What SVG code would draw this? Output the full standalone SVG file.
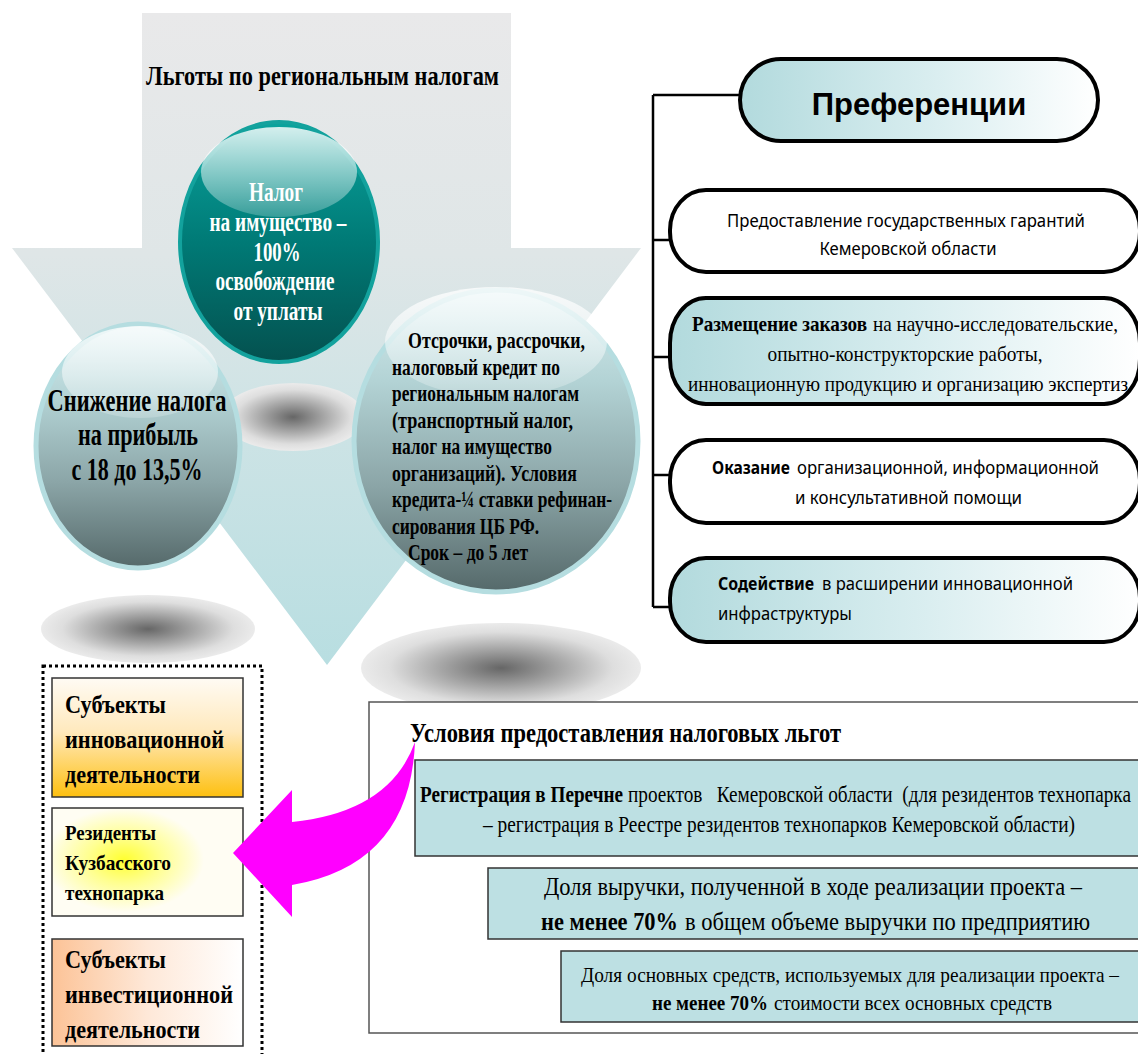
<svg xmlns="http://www.w3.org/2000/svg" width="1138" height="1054" viewBox="0 0 1138 1054">
<defs>
<linearGradient id="arrowGrad" gradientUnits="userSpaceOnUse" x1="0" y1="13" x2="0" y2="665">
<stop offset="0" stop-color="#e9e9ea"/><stop offset="0.37" stop-color="#dfe6e7"/><stop offset="0.65" stop-color="#cce3e5"/><stop offset="1" stop-color="#b8dee1"/>
</linearGradient>
<linearGradient id="tealGrad" x1="0" y1="0" x2="0" y2="1">
<stop offset="0" stop-color="#0aa39d"/><stop offset="0.5" stop-color="#007a76"/><stop offset="1" stop-color="#04514f"/>
</linearGradient>
<linearGradient id="grayGrad" x1="0" y1="0" x2="0" y2="1">
<stop offset="0" stop-color="#d6edef"/><stop offset="0.3" stop-color="#b3d3d5"/><stop offset="0.65" stop-color="#8ba5a7"/><stop offset="1" stop-color="#55696a"/>
</linearGradient>
<linearGradient id="hlGrad" x1="0" y1="0" x2="0" y2="1">
<stop offset="0" stop-color="#ffffff" stop-opacity="0.97"/><stop offset="1" stop-color="#ffffff" stop-opacity="0.25"/>
</linearGradient>
<radialGradient id="shadowGrad" cx="0.5" cy="0.5" r="0.5">
<stop offset="0" stop-color="#666666"/><stop offset="0.45" stop-color="#a9a9a9"/><stop offset="0.8" stop-color="#dedede"/><stop offset="1" stop-color="#ebebeb"/>
</radialGradient>
<linearGradient id="prefGrad" x1="0" y1="0" x2="1" y2="0">
<stop offset="0" stop-color="#b2dadd"/><stop offset="0.55" stop-color="#daeef0"/><stop offset="1" stop-color="#ffffff"/>
</linearGradient>
<linearGradient id="orangeGrad" x1="0" y1="0" x2="0" y2="1">
<stop offset="0" stop-color="#fffbf4"/><stop offset="0.45" stop-color="#ffe9bd"/><stop offset="1" stop-color="#fec010"/>
</linearGradient>
<radialGradient id="yellowGlow" gradientUnits="userSpaceOnUse" cx="124" cy="860" r="80" gradientTransform="translate(124 860) scale(1 0.65) translate(-124 -860)">
<stop offset="0" stop-color="#ffff30"/><stop offset="0.45" stop-color="#ffff90"/><stop offset="1" stop-color="#fffdf3"/>
</radialGradient>
<linearGradient id="peachGrad" x1="0" y1="0" x2="1" y2="0">
<stop offset="0" stop-color="#fcc397"/><stop offset="0.5" stop-color="#fee8d8"/><stop offset="1" stop-color="#ffffff"/>
</linearGradient>
<style>
.serif{font-family:"Liberation Serif","Times New Roman",serif}
.sans{font-family:"Noto Sans","Liberation Sans",sans-serif}
.arial{font-family:"Liberation Sans",Arial,sans-serif}
.b{font-weight:bold}
.pill{stroke:#000;stroke-width:4}
.cond{fill:#bde0e3;stroke:#333;stroke-width:1.5}
.lbox{stroke:#333;stroke-width:1.5}
.shadow{fill:url(#shadowGrad)}
.conn{fill:none;stroke:#000;stroke-width:2.5}
</style>
</defs>

<g id="background-arrow">
<path d="M142 13 H511 V248 H641 L327 665 L12 248 H142 Z" fill="url(#arrowGrad)"/>
</g>
<g id="title">
<text class="serif b" x="146" y="85" font-size="28" textLength="353" lengthAdjust="spacingAndGlyphs">Льготы по региональным налогам</text>
</g>

<g id="shadows">
<ellipse class="shadow" cx="293" cy="417" rx="72" ry="34"/>
<ellipse class="shadow" cx="148" cy="629" rx="107" ry="34"/>
<ellipse class="shadow" cx="501" cy="668" rx="140" ry="45"/>
</g>

<g id="circle-property">
<ellipse cx="279" cy="242" rx="99" ry="120" fill="url(#tealGrad)" stroke="#13a29d" stroke-width="4"/>
<ellipse cx="279" cy="172" rx="78" ry="45" fill="url(#hlGrad)" opacity="0.85"/>
<g class="serif b" font-size="27" fill="#ffffff" text-anchor="middle">
<text x="276" y="201" textLength="54" lengthAdjust="spacingAndGlyphs">Налог</text>
<text x="278" y="231" textLength="137" lengthAdjust="spacingAndGlyphs">на имущество –</text>
<text x="277" y="261" textLength="47" lengthAdjust="spacingAndGlyphs">100%</text>
<text x="275" y="290" textLength="119" lengthAdjust="spacingAndGlyphs">освобождение</text>
<text x="278" y="320" textLength="89" lengthAdjust="spacingAndGlyphs">от уплаты</text>
</g>
</g>

<g id="circle-profit">
<ellipse cx="138" cy="446" rx="102" ry="122" fill="url(#grayGrad)" stroke="#b5dde0" stroke-width="5"/>
<ellipse cx="140" cy="372" rx="78" ry="46" fill="url(#hlGrad)" opacity="0.8"/>
<g class="serif b" font-size="31" fill="#000" text-anchor="middle">
<text x="137" y="411" textLength="179" lengthAdjust="spacingAndGlyphs">Снижение налога</text>
<text x="138" y="445" textLength="120" lengthAdjust="spacingAndGlyphs">на прибыль</text>
<text x="137" y="480" textLength="131" lengthAdjust="spacingAndGlyphs">с 18 до 13,5%</text>
</g>
</g>

<g id="circle-deferral">
<ellipse cx="496" cy="441" rx="142" ry="151" fill="url(#grayGrad)" stroke="#b5dde0" stroke-width="5"/>
<ellipse cx="496" cy="342" rx="111" ry="55" fill="url(#hlGrad)" opacity="0.8"/>
<g class="serif b" font-size="23" fill="#000">
<text x="408" y="348" textLength="177" lengthAdjust="spacingAndGlyphs">Отсрочки, рассрочки,</text>
<text x="392" y="375" textLength="168" lengthAdjust="spacingAndGlyphs">налоговый кредит по</text>
<text x="392" y="401" textLength="187" lengthAdjust="spacingAndGlyphs">региональным налогам</text>
<text x="392" y="428" textLength="181" lengthAdjust="spacingAndGlyphs">(транспортный налог,</text>
<text x="392" y="454" textLength="160" lengthAdjust="spacingAndGlyphs">налог на имущество</text>
<text x="392" y="481" textLength="185" lengthAdjust="spacingAndGlyphs">организаций). Условия</text>
<text x="392" y="507" textLength="220" lengthAdjust="spacingAndGlyphs">кредита-¼ ставки рефинан-</text>
<text x="392" y="534" textLength="147" lengthAdjust="spacingAndGlyphs">сирования ЦБ РФ.</text>
<text x="408" y="560" textLength="120" lengthAdjust="spacingAndGlyphs">Срок – до 5 лет</text>
</g>
</g>

<g id="connectors">
<path class="conn" d="M653 95 V607 M653 95 H740 M653 240 H670 M653 357 H670 M653 475 H670 M653 607 H670"/>
</g>

<g id="pref-title">
<rect class="pill" x="740" y="59" width="358" height="82" rx="41" fill="url(#prefGrad)"/>
<text class="arial b" x="919" y="115" font-size="31" text-anchor="middle">Преференции</text>
</g>

<g id="pref-guarantees">
<rect class="pill" x="670" y="190" width="470" height="82" rx="36" ry="40" fill="#ffffff"/>
<text class="sans" x="906" y="227" font-size="18" text-anchor="middle" textLength="358" lengthAdjust="spacingAndGlyphs">Предоставление государственных гарантий</text>
<text class="sans" x="908" y="255" font-size="18" text-anchor="middle" textLength="177" lengthAdjust="spacingAndGlyphs">Кемеровской области</text>
</g>

<g id="pref-orders">
<rect class="pill" x="670" y="298" width="470" height="106" rx="36" ry="45" fill="url(#prefGrad)"/>
<text class="serif b" x="692" y="331" font-size="21" textLength="175" lengthAdjust="spacingAndGlyphs">Размещение заказов</text>
<text class="serif" x="873" y="331" font-size="21" textLength="245" lengthAdjust="spacingAndGlyphs">на научно-исследовательские,</text>
<text class="serif" x="905" y="361" font-size="21" text-anchor="middle" textLength="275" lengthAdjust="spacingAndGlyphs">опытно-конструкторские работы,</text>
<text class="serif" x="688" y="391" font-size="21" textLength="440" lengthAdjust="spacingAndGlyphs">инновационную продукцию и организацию экспертиз</text>
</g>

<g id="pref-assistance">
<rect class="pill" x="670" y="440" width="470" height="83" rx="36" ry="40" fill="#ffffff"/>
<text class="sans b" x="712" y="474" font-size="18" textLength="78" lengthAdjust="spacingAndGlyphs">Оказание</text>
<text class="sans" x="797" y="474" font-size="18" textLength="302" lengthAdjust="spacingAndGlyphs">организационной, информационной</text>
<text class="sans" x="795" y="504" font-size="18" textLength="227" lengthAdjust="spacingAndGlyphs">и консультативной помощи</text>
</g>

<g id="pref-infrastructure">
<rect class="pill" x="670" y="558" width="470" height="84" rx="36" ry="40" fill="url(#prefGrad)"/>
<text class="sans b" x="718" y="590" font-size="18" textLength="96" lengthAdjust="spacingAndGlyphs">Содействие</text>
<text class="sans" x="822" y="590" font-size="18" textLength="251" lengthAdjust="spacingAndGlyphs">в расширении инновационной</text>
<text class="sans" x="718" y="620" font-size="18" textLength="134" lengthAdjust="spacingAndGlyphs">инфраструктуры</text>
</g>

<g id="subjects-group">
<rect x="43" y="666" width="219" height="400" fill="none" stroke="#000" stroke-width="3" stroke-dasharray="3 3"/>
</g>

<g id="subject-innovation">
<rect class="lbox" x="52" y="678" width="191" height="119" fill="url(#orangeGrad)"/>
<g class="serif b" font-size="26">
<text x="65" y="713" textLength="101" lengthAdjust="spacingAndGlyphs">Субъекты</text>
<text x="65" y="748" textLength="159" lengthAdjust="spacingAndGlyphs">инновационной</text>
<text x="65" y="783" textLength="135" lengthAdjust="spacingAndGlyphs">деятельности</text>
</g>
</g>

<g id="subject-residents">
<rect class="lbox" x="52" y="808" width="191" height="108" fill="url(#yellowGlow)"/>
<g class="serif b" font-size="21">
<text x="65" y="840" textLength="91" lengthAdjust="spacingAndGlyphs">Резиденты</text>
<text x="65" y="870" textLength="106" lengthAdjust="spacingAndGlyphs">Кузбасского</text>
<text x="65" y="900" textLength="99" lengthAdjust="spacingAndGlyphs">технопарка</text>
</g>
</g>

<g id="subject-investment">
<rect class="lbox" x="52" y="939" width="191" height="107" fill="url(#peachGrad)"/>
<g class="serif b" font-size="26">
<text x="65" y="968" textLength="101" lengthAdjust="spacingAndGlyphs">Субъекты</text>
<text x="65" y="1003" textLength="168" lengthAdjust="spacingAndGlyphs">инвестиционной</text>
<text x="65" y="1038" textLength="135" lengthAdjust="spacingAndGlyphs">деятельности</text>
</g>
</g>

<g id="conditions">
<rect x="369" y="702" width="790" height="331" fill="#ffffff" stroke="#555" stroke-width="1.5"/>
<text class="serif b" x="410" y="742" font-size="27" textLength="431" lengthAdjust="spacingAndGlyphs">Условия предоставления налоговых льгот</text>
</g>

<g id="cond-registration">
<rect class="cond" x="415" y="760" width="740" height="96"/>
<text class="serif b" x="420" y="802" font-size="23" textLength="203" lengthAdjust="spacingAndGlyphs">Регистрация в Перечне</text>
<text class="serif" x="628" y="802" font-size="23" xml:space="preserve" textLength="503" lengthAdjust="spacingAndGlyphs">проектов   Кемеровской области  (для резидентов технопарка</text>
<text class="serif" x="483" y="832" font-size="23" textLength="592" lengthAdjust="spacingAndGlyphs">– регистрация в Реестре резидентов технопарков Кемеровской области)</text>
</g>

<g id="cond-revenue">
<rect class="cond" x="488" y="868" width="670" height="71"/>
<text class="serif" x="544" y="895" font-size="26" textLength="538" lengthAdjust="spacingAndGlyphs">Доля выручки, полученной в ходе реализации проекта –</text>
<text class="serif b" x="541" y="930" font-size="26" textLength="137" lengthAdjust="spacingAndGlyphs">не менее 70%</text>
<text class="serif" x="685" y="930" font-size="26" textLength="405" lengthAdjust="spacingAndGlyphs">в общем объеме выручки по предприятию</text>
</g>

<g id="cond-assets">
<rect class="cond" x="561" y="951" width="600" height="71"/>
<text class="serif" x="581" y="982" font-size="22" textLength="538" lengthAdjust="spacingAndGlyphs">Доля основных средств, используемых для реализации проекта –</text>
<text class="serif b" x="652" y="1010" font-size="22" textLength="116" lengthAdjust="spacingAndGlyphs">не менее 70%</text>
<text class="serif" x="774" y="1010" font-size="22" textLength="278" lengthAdjust="spacingAndGlyphs">стоимости всех основных средств</text>
</g>

<g id="magenta-arrow">
<path d="M415 742 Q390 812 292 822 L292 790 L233 853 L292 917 L292 885 Q410 865 415 742 Z" fill="#ff00ff"/>
</g>
</svg>
